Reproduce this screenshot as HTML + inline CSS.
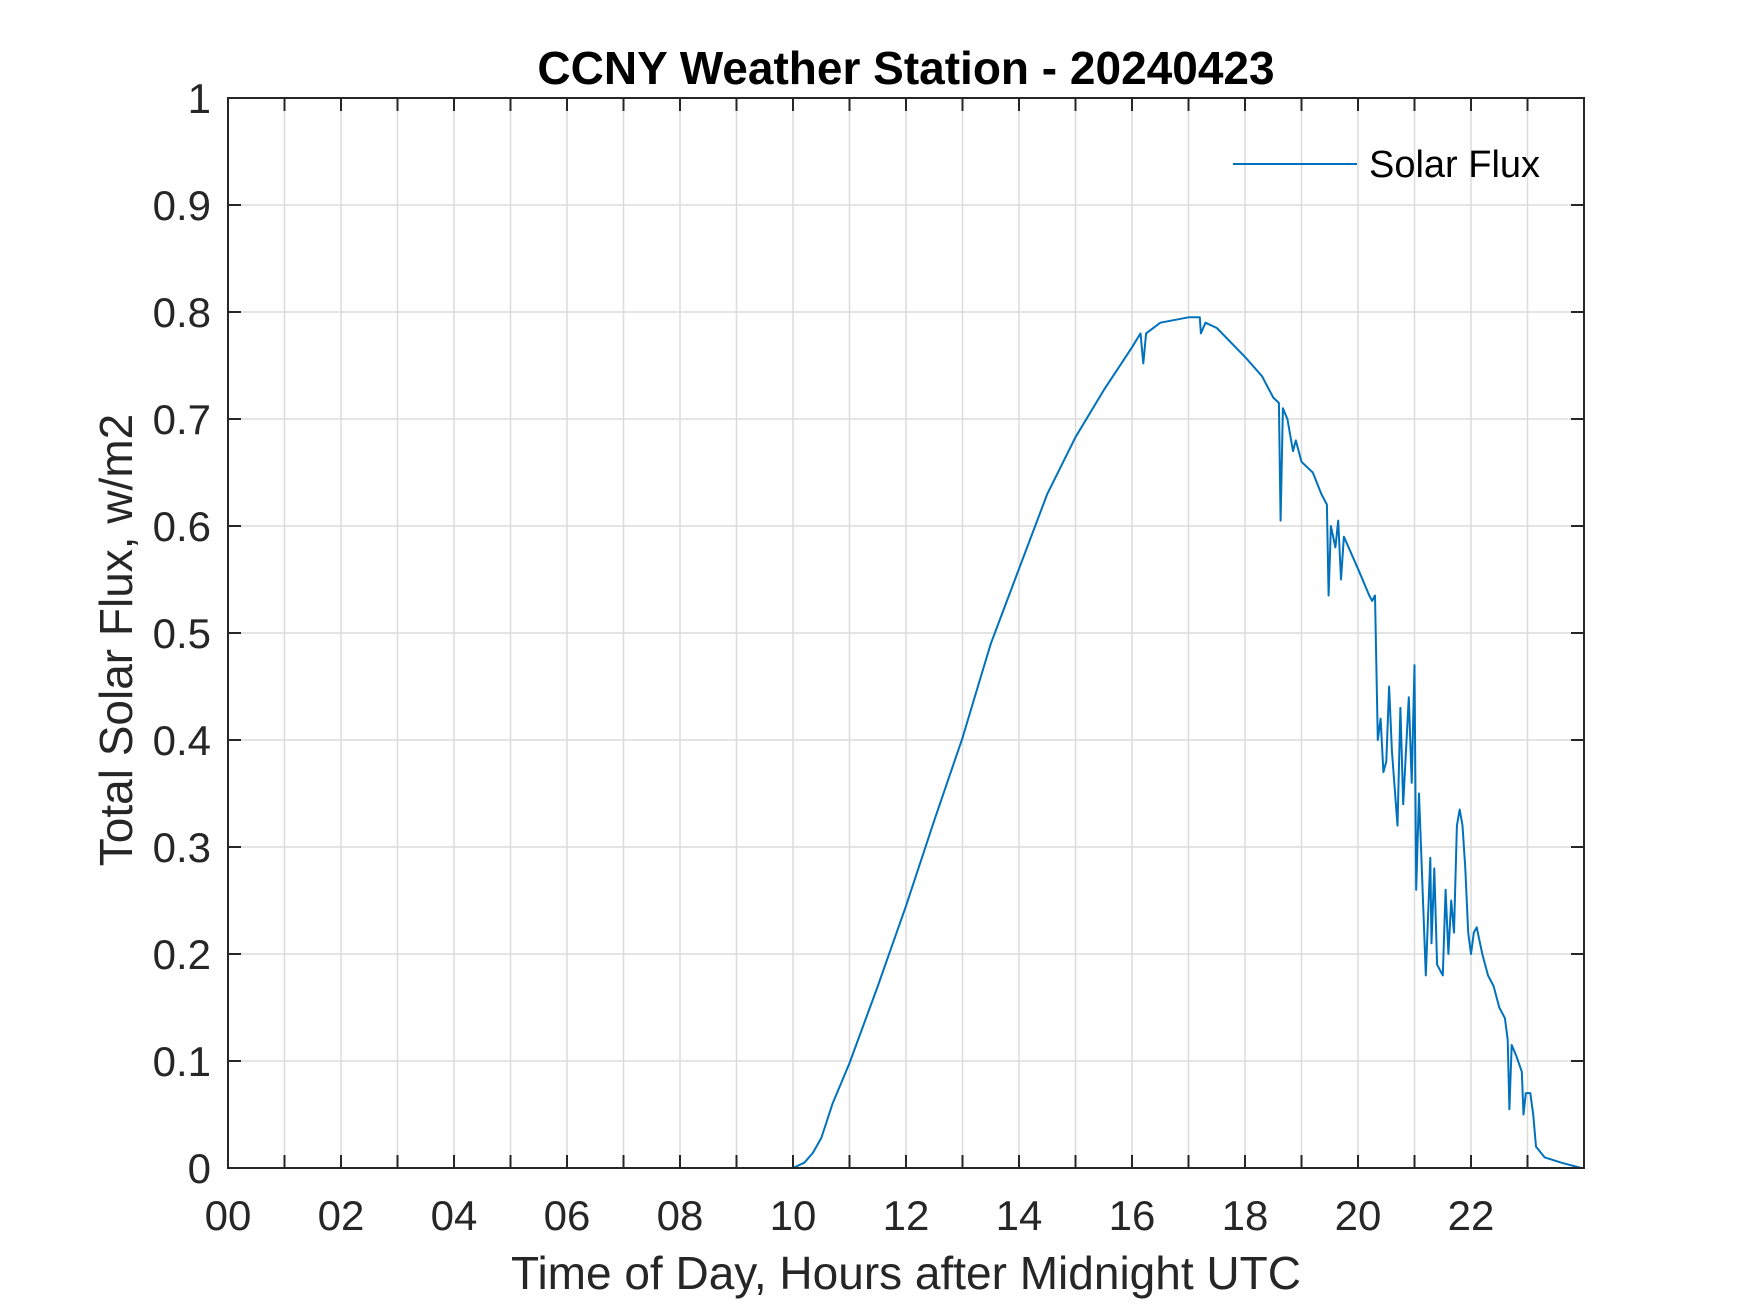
<!DOCTYPE html>
<html><head><meta charset="utf-8"><style>
html,body{margin:0;padding:0;background:#fff;}
svg{display:block;font-family:"Liberation Sans",Arial,sans-serif;}
</style></head><body>
<svg id="chart" width="1750" height="1313" viewBox="0 0 1750 1313" xmlns="http://www.w3.org/2000/svg">
<rect width="1750" height="1313" fill="#fff"/>
<g id="grid"></g>
<g id="series"></g>
<g id="axes"></g>
<text x="906" y="84" text-anchor="middle" font-size="46" font-weight="bold" fill="#000">CCNY Weather Station - 20240423</text>
<text x="906" y="1289" text-anchor="middle" font-size="46" fill="#262626">Time of Day, Hours after Midnight UTC</text>
<text transform="translate(132,640) rotate(-90)" text-anchor="middle" font-size="46" fill="#262626">Total Solar Flux, w/m2</text>
<g>
<line x1="1233" y1="164" x2="1357" y2="164" stroke="#0072BD" stroke-width="2"/>
<text x="1369" y="177" font-size="38" fill="#000">Solar Flux</text>
</g>
</svg>
<script>
const hours=[0,10.0,10.2,10.35,10.5,10.7,11.0,11.5,12.0,12.5,13.0,13.3,13.5,14.0,14.5,15.0,15.5,16.0,16.15,16.2,16.25,16.5,17.0,17.2,17.22,17.3,17.5,18.0,18.3,18.5,18.6,18.63,18.67,18.75,18.85,18.9,19.0,19.2,19.35,19.45,19.48,19.52,19.6,19.65,19.7,19.75,20.0,20.2,20.25,20.3,20.35,20.4,20.45,20.5,20.55,20.6,20.7,20.75,20.8,20.9,20.95,21.0,21.03,21.08,21.15,21.2,21.28,21.3,21.35,21.4,21.5,21.55,21.6,21.65,21.7,21.75,21.8,21.85,21.9,21.95,22.0,22.05,22.1,22.2,22.3,22.4,22.5,22.6,22.65,22.68,22.72,22.8,22.9,22.93,22.97,23.05,23.1,23.15,23.3,23.6,23.95];
const flux=[0,0,0.005,0.014,0.028,0.06,0.098,0.17,0.245,0.325,0.402,0.455,0.49,0.56,0.63,0.683,0.727,0.767,0.78,0.752,0.78,0.79,0.795,0.795,0.78,0.79,0.785,0.758,0.74,0.72,0.715,0.605,0.71,0.70,0.67,0.68,0.66,0.65,0.63,0.62,0.535,0.60,0.58,0.605,0.55,0.59,0.56,0.535,0.53,0.535,0.40,0.42,0.37,0.38,0.45,0.39,0.32,0.43,0.34,0.44,0.36,0.47,0.26,0.35,0.25,0.18,0.29,0.21,0.28,0.19,0.18,0.26,0.20,0.25,0.22,0.32,0.335,0.32,0.28,0.22,0.20,0.22,0.225,0.20,0.18,0.17,0.15,0.14,0.12,0.055,0.115,0.105,0.09,0.05,0.07,0.07,0.05,0.02,0.01,0.005,0];
const xTicks=[0,2,4,6,8,10,12,14,16,18,20,22];
const xTickLabels=["00","02","04","06","08","10","12","14","16","18","20","22"];
const yTicks=[0,0.1,0.2,0.3,0.4,0.5,0.6,0.7,0.8,0.9,1];
const yTickLabels=["0","0.1","0.2","0.3","0.4","0.5","0.6","0.7","0.8","0.9","1"];
const L=228,R=1584,T=98,B=1168,XMAX=24;
const sx=h=>L+h/XMAX*(R-L);
const sy=v=>B-v*(B-T);
const NS="http://www.w3.org/2000/svg";
function mk(tag,attrs,parent){const e=document.createElementNS(NS,tag);for(const k in attrs)e.setAttribute(k,attrs[k]);parent.appendChild(e);return e;}
const grid=document.getElementById('grid'),axes=document.getElementById('axes'),series=document.getElementById('series');
for(let h=1;h<24;h++){
  const g=mk('line',{x1:sx(h),x2:sx(h),y1:T,y2:B,stroke:'#dcdcdc','stroke-width':1.5},grid);
  
  
  const t1=mk('line',{x1:sx(h),x2:sx(h),y1:B,y2:B-13,stroke:'#262626','stroke-width':2},axes);
  
  
  const t2=mk('line',{x1:sx(h),x2:sx(h),y1:T,y2:T+13,stroke:'#262626','stroke-width':2},axes);
  
  
}
xTicks.forEach((h,i)=>{
  const t=mk('text',{x:sx(h),y:1230,'text-anchor':'middle','font-size':42,fill:'#262626'},axes);
  t.textContent=xTickLabels[i];
  
  
});
yTicks.forEach((v,i)=>{
  if(v>0&&v<1){
    const g=mk('line',{x1:L,x2:R,y1:sy(v),y2:sy(v),stroke:'#dcdcdc','stroke-width':1.5},grid);
    
    
  }
  const a=mk('line',{x1:L,x2:L+13,y1:sy(v),y2:sy(v),stroke:'#262626','stroke-width':2},axes);
  
  
  const b=mk('line',{x1:R,x2:R-13,y1:sy(v),y2:sy(v),stroke:'#262626','stroke-width':2},axes);
  
  
  const t=mk('text',{x:211,y:sy(v)+15,'text-anchor':'end','font-size':42,fill:'#262626'},axes);
  t.textContent=yTickLabels[i];
  
  
});
const box=mk('rect',{x:L,y:T,width:R-L,height:B-T,fill:'none',stroke:'#262626','stroke-width':2},axes);


const pts=hours.map((h,i)=>sx(h).toFixed(1)+','+sy(flux[i]).toFixed(1)).join(' ');
const line=mk('polyline',{points:pts,fill:'none',stroke:'#0072BD','stroke-width':2,'stroke-linejoin':'round'},series);


</script>
</body></html>
